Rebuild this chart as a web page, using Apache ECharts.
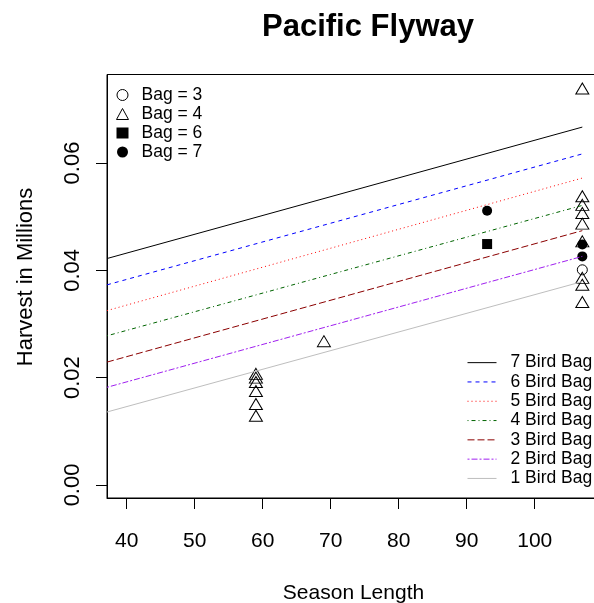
<!DOCTYPE html>
<html>
<head>
<meta charset="utf-8">
<script src="https://cdn.jsdelivr.net/npm/echarts@6/dist/echarts.min.js"></script>
<style>html,body{margin:0;padding:0;background:#fff;}#chart{width:594px;height:603px;}</style>
</head>
<body>
<div id="chart"></div>
<script>
// ---- data ----
var lineNames = ['7 Bird Bag', '6 Bird Bag', '5 Bird Bag', '4 Bird Bag', '3 Bird Bag', '2 Bird Bag', '1 Bird Bag'];
var lineStartX = 37.1;
var lineEndX = 107;
var lineStartY = [0.0422, 0.0373, 0.0325, 0.0278, 0.0229, 0.0182, 0.0136];
var lineEndY = [0.0667, 0.0617, 0.0572, 0.0521, 0.0474, 0.0426, 0.0379];

var bag3 = [[107, 0.0401]];
var bag4 = [[59, 0.0207], [59, 0.0200], [59, 0.0192], [59, 0.0175], [59, 0.0151], [59, 0.0129],
            [69, 0.0268],
            [107, 0.0739], [107, 0.0538], [107, 0.0522], [107, 0.0507], [107, 0.0487], [107, 0.0454],
            [107, 0.0386], [107, 0.0373], [107, 0.0341]];
var bag6 = [[93, 0.0449]];
var bag7 = [[93, 0.0511], [107, 0.0448], [107, 0.0426]];

var xTicks = [40, 50, 60, 70, 80, 90, 100];
var yTicks = [0, 0.02, 0.04, 0.06];

// ---- styles ----
var FONT = '"Liberation Sans", Arial, Helvetica, sans-serif';
var lineColors = ['#000000', '#0000FF', '#FF0000', '#006400', '#8B0000', '#A020F0', '#BEBEBE'];
var lineDashes = ['solid', [4, 4], [1, 3], [1, 3, 4, 3], [7, 3], [2, 2, 6, 2], 'solid'];

var series = [];
lineNames.forEach(function (n, i) {
  series.push({
    name: n, type: 'line', symbol: 'none', silent: true,
    data: [[lineStartX, lineStartY[i]], [lineEndX, lineEndY[i]]],
    lineStyle: { color: lineColors[i], width: 1, type: lineDashes[i] },
    itemStyle: { color: lineColors[i] }
  });
});
var hollow = { color: 'rgba(0,0,0,0)', borderColor: '#000', borderWidth: 1, opacity: 1 };
var solid = { color: '#000', borderWidth: 0, opacity: 1 };
series.push({ name: 'Bag = 3', type: 'scatter', symbol: 'circle', symbolSize: 10, data: bag3, itemStyle: hollow });
series.push({ name: 'Bag = 4', type: 'scatter', symbol: 'triangle', symbolSize: [13, 11], data: bag4, itemStyle: hollow });
series.push({ name: 'Bag = 6', type: 'scatter', symbol: 'rect', symbolSize: 10, data: bag6, itemStyle: solid });
series.push({ name: 'Bag = 7', type: 'scatter', symbol: 'circle', symbolSize: 10, data: bag7, itemStyle: solid });

var chart = echarts.init(document.getElementById('chart'), null, { renderer: 'canvas' });
chart.setOption({
  animation: false,
  backgroundColor: '#fff',
  textStyle: { fontFamily: FONT },
  grid: { left: 107, top: 74.5, width: 493, height: 423.5, outerBoundsMode: 'none', containLabel: false,
    show: true, borderColor: '#000', borderWidth: 1, backgroundColor: 'transparent' },
  xAxis: {
    type: 'value', min: 37.1, max: 109.6,
    splitLine: { show: false },
    axisLine: { show: true, onZero: false, lineStyle: { color: '#000' } },
    axisTick: { show: true, inside: false, length: 11, lineStyle: { color: '#000' }, customValues: xTicks },
    axisLabel: { color: '#000', fontSize: 21, fontFamily: FONT, margin: 33, customValues: xTicks },
    name: 'Season Length', nameLocation: 'middle', nameGap: 85,
    nameTextStyle: { color: '#000', fontSize: 21, fontFamily: FONT }
  },
  yAxis: {
    type: 'value', min: -0.00243, max: 0.0765,
    splitLine: { show: false },
    axisLine: { show: true, onZero: false, lineStyle: { color: '#000' } },
    axisTick: { show: true, inside: false, length: 11, lineStyle: { color: '#000' }, customValues: yTicks },
    axisLabel: { color: '#000', fontSize: 22, fontFamily: FONT, rotate: 90, margin: 23, customValues: yTicks,
      formatter: function (v) { return v.toFixed(2); } }
  },
  legend: [
    {
      data: [
        { name: 'Bag = 3', icon: 'circle', itemStyle: { color: 'rgba(0,0,0,0)', borderColor: '#000', borderWidth: 1, opacity: 1 } },
        { name: 'Bag = 4', icon: 'triangle', itemStyle: { color: 'rgba(0,0,0,0)', borderColor: '#000', borderWidth: 1, opacity: 1 } },
        { name: 'Bag = 6', icon: 'rect', itemStyle: { color: '#000', borderWidth: 0, opacity: 1 } },
        { name: 'Bag = 7', icon: 'circle', itemStyle: { color: '#000', borderWidth: 0, opacity: 1 } }
      ],
      orient: 'vertical', left: 116, top: 85.5, padding: 0, itemWidth: 12, itemHeight: 11, itemGap: 0,
      selectedMode: false,
      textStyle: { color: '#000', fontSize: 17.5, fontFamily: FONT, lineHeight: 19, padding: [0, 0, 0, 8] }
    },
    {
      data: lineNames,
      orient: 'vertical', left: 467, top: 353, padding: 0, itemWidth: 29, itemHeight: 12, itemGap: 0,
      selectedMode: false,
      itemStyle: { opacity: 0 },
      lineStyle: { width: 1 },
      textStyle: { color: '#000', fontSize: 17.5, fontFamily: FONT, lineHeight: 19.3, padding: [0, 0, 0, 9] }
    }
  ],
  graphic: [
    { type: 'text', x: 368, y: 27, silent: true,
      style: { text: 'Pacific Flyway', fill: '#000', fontSize: 31, fontWeight: 'bold', fontFamily: FONT, align: 'center', verticalAlign: 'middle' } },
    { type: 'text', x: 26, y: 277, rotation: Math.PI / 2, silent: true,
      style: { text: 'Harvest in Millions', fill: '#000', fontSize: 22, fontFamily: FONT, align: 'center', verticalAlign: 'middle' } }
  ],
  series: series
});
</script>
</body>
</html>
